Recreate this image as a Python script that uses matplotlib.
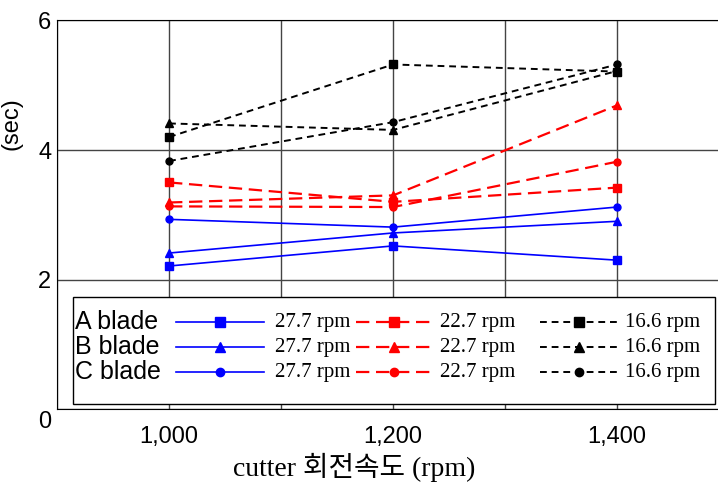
import matplotlib
matplotlib.use("Agg")
import matplotlib.pyplot as plt
from matplotlib.lines import Line2D
from matplotlib.patches import Rectangle
from matplotlib.ticker import MultipleLocator
from matplotlib.transforms import ScaledTranslation

# cutter speed (rpm)
speeds = [1000, 1200, 1400]

# time (sec) per blade, feed speed
blue_a = [2.21, 2.52, 2.30]
blue_b = [2.41, 2.72, 2.90]
blue_c = [2.93, 2.81, 3.12]
red_a = [3.50, 3.20, 3.42]
red_b = [3.19, 3.30, 4.69]
red_c = [3.13, 3.12, 3.82]
black_a = [4.20, 5.32, 5.21]
black_b = [4.41, 4.31, 5.22]
black_c = [3.83, 4.43, 5.32]

blade_names = ["A blade", "B blade", "C blade"]
rpm_labels = ["27.7 rpm", "22.7 rpm", "16.6 rpm"]

fig = plt.figure(figsize=(7.18, 4.86), dpi=100)
ax = fig.add_axes([0.0794, 0.158, 0.9206, 0.800])

markers = ["s", "^", "o"]
msizes = [6, 6, 5]
blue_style = dict(color="#0000ff", linestyle="-", linewidth=1.2)
red_style = dict(color="#ff0000", linestyle=(0, (6, 3)), linewidth=1.6)
black_style = dict(color="black", linestyle=(0, (3.5, 2.5)), linewidth=1.4)

groups = [
    ([blue_a, blue_b, blue_c], blue_style),
    ([red_a, red_b, red_c], red_style),
    ([black_a, black_b, black_c], black_style),
]
for series, style in groups:
    for vals, m, ms in zip(series, markers, msizes):
        ax.plot(speeds, vals, marker=m, markersize=ms, zorder=3, **style)

ax.set_xlim(900, 1490)
ax.set_ylim(0, 6)
ax.set_xticks(speeds)
ax.set_xticklabels(["1,000", "1,200", "1,400"])
ax.xaxis.set_minor_locator(MultipleLocator(100))
ax.set_yticks([0, 2, 4, 6])
ax.tick_params(axis="x", which="both", length=0, labelsize=17, pad=12)
ax.tick_params(axis="y", which="both", length=0, labelsize=17, pad=4)
for lab in ax.get_xticklabels() + ax.get_yticklabels():
    lab.set_family("Liberation Sans")
# the "0" sits a little below the axis line
t0 = ax.yaxis.get_major_ticks()[0].label1
t0.set_transform(t0.get_transform() + ScaledTranslation(0, -10 / 100, fig.dpi_scale_trans))

ax.grid(True, which="both", axis="x", color="#444444", linewidth=1.0)
ax.grid(True, which="major", axis="y", color="#444444", linewidth=1.0)
ax.set_axisbelow(True)
ax.spines["right"].set_visible(False)

ax.set_ylabel("(sec)", fontsize=17, family="Liberation Sans")
ax.yaxis.set_label_coords(-0.052, 0.735)
ax.set_xlabel("cutter 회전속도 (rpm)", fontsize=20,
              family=["Liberation Serif", "Noto Sans CJK KR"])
ax.xaxis.set_label_coords(0.45, -0.112)

# legend box drawn by hand: blade names, then one sample per feed speed
ax.add_patch(Rectangle((0.024, 0.013), 0.971, 0.275, transform=ax.transAxes,
                       facecolor="white", edgecolor="black", linewidth=1.0, zorder=4))
row_y = [0.224, 0.159, 0.095]
handle_x = [(0.180, 0.313), (0.453, 0.567), (0.731, 0.849)]
label_x = [0.330, 0.579, 0.859]
for r, name in enumerate(blade_names):
    ax.text(0.027, row_y[r], name, transform=ax.transAxes, fontsize=18,
            family="Liberation Sans", va="center", ha="left", zorder=5)
    for g, (series, style) in enumerate(groups):
        x0, x1 = handle_x[g]
        ax.add_line(Line2D([x0, x1], [row_y[r], row_y[r]], transform=ax.transAxes,
                           zorder=5, **style))
        ax.add_line(Line2D([(x0 + x1) / 2], [row_y[r]], transform=ax.transAxes,
                           marker=markers[r], markersize=msizes[r] + 1,
                           color=style["color"], linestyle="none", zorder=6))
        ax.text(label_x[g], row_y[r], rpm_labels[g], transform=ax.transAxes,
                fontsize=15, family="Liberation Serif", va="center", ha="left", zorder=5)

fig.savefig("out.png", dpi=100)
